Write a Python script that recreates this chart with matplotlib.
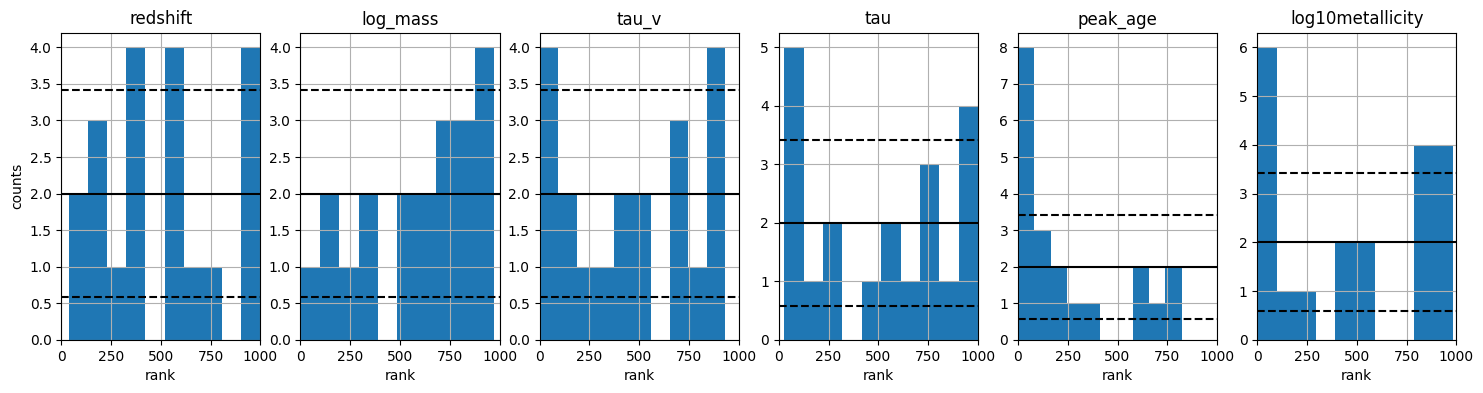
import numpy as np
import matplotlib
matplotlib.use("Agg")
import matplotlib.pyplot as plt

params = ["redshift", "log_mass", "tau_v", "tau", "peak_age", "log10metallicity"]
# min and max rank observed per parameter (histogram range)
rank_min = [38, 0, 0, 28, 0, 0]
rank_max = [999, 972, 933, 1000, 822, 983]
# counts in each of the 10 bins
counts = {
    "redshift":         [2, 3, 1, 4, 0, 4, 1, 1, 0, 4],
    "log_mass":         [1, 2, 1, 2, 0, 2, 2, 3, 3, 4],
    "tau_v":            [4, 2, 1, 1, 2, 2, 0, 3, 1, 4],
    "tau":              [5, 1, 2, 0, 1, 2, 1, 3, 1, 4],
    "peak_age":         [8, 3, 2, 1, 1, 0, 0, 2, 1, 2],
    "log10metallicity": [6, 1, 1, 0, 2, 2, 0, 0, 4, 4],
}
n_bins = 10
expected = 2.0

fig, axes = plt.subplots(1, 6, figsize=(14.83, 3.93), dpi=100)
fig.subplots_adjust(left=0.0413, right=0.982, top=0.9168, bottom=0.1349, wspace=0.201)

for i, (ax, name) in enumerate(zip(axes, params)):
    edges = np.linspace(rank_min[i], rank_max[i], n_bins + 1)
    centers = 0.5 * (edges[:-1] + edges[1:])
    ax.hist(centers, bins=edges, weights=counts[name], color="#1f77b4")
    ax.axhline(expected, color="k", lw=1.5)
    ax.axhline(expected - np.sqrt(expected), color="k", ls="--", lw=1.5)
    ax.axhline(expected + np.sqrt(expected), color="k", ls="--", lw=1.5)
    ax.set_xlim(0, 1000)
    ax.grid(True)
    ax.set_title(name)
    ax.set_xlabel("rank")
    if i == 0:
        ax.set_ylabel("counts")

fig.savefig("out.png", dpi=100)
